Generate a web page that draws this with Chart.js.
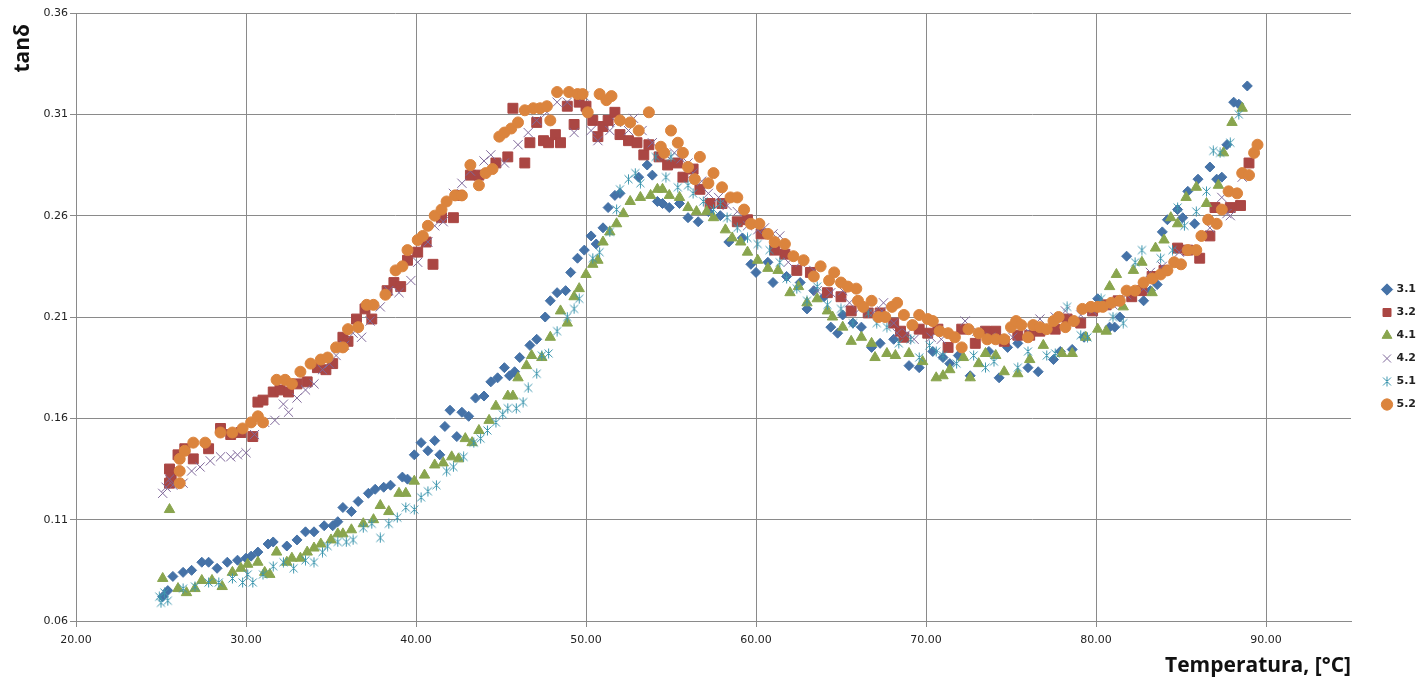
<!DOCTYPE html>
<html>
<head>
<meta charset="utf-8">
<script src="https://cdn.jsdelivr.net/npm/chart.js@4.4.1/dist/chart.umd.min.js"></script>
<style>
  html, body { margin: 0; padding: 0; background: #fff; }
  #wrap { width: 1416px; height: 681px; position: relative; }
</style>
</head>
<body>
<div id="wrap"><canvas id="chart"></canvas></div>
<script>
/* tanδ vs temperature, six samples (scatter, Excel-style) */

const SERIES_NAMES = ['3.1', '3.2', '4.1', '4.2', '5.1', '5.2'];
const X_TICKS = [20, 30, 40, 50, 60, 70, 80, 90];
const Y_TICKS = [0.06, 0.11, 0.16, 0.21, 0.26, 0.31, 0.36];

// 3.1
const T31 = [25.1,25.4,25.7,26.3,26.8,27.4,27.8,28.3,28.9,29.5,30.0,30.3,30.7,31.3,31.6,32.4,33.0,33.5,34.0,34.6,35.1,35.4,35.7,36.2,36.6,37.2,37.6,38.1,38.5,39.2,39.5,39.9,40.3,40.7,41.1,41.4,41.7,42.0,42.4,42.7,43.1,43.5,44.0,44.4,44.8,45.2,45.5,45.8,46.1,46.7,47.1,47.6,47.9,48.3,48.8,49.1,49.5,49.9,50.3,50.6,51.0,51.3,51.7,52.0,53.1,53.6,53.9,54.2,54.5,54.9,55.5,56.0,56.6,57.2,57.9,58.4,59.2,59.7,60.0,60.7,61.0,61.8,62.6,63.0,63.4,64.0,64.4,64.8,65.1,65.7,66.2,66.8,67.3,68.1,69.0,69.6,70.4,71.0,71.4,71.9,72.6,73.7,74.3,74.8,75.4,76.0,76.6,77.5,77.9,78.6,79.3,80.1,80.8,81.1,81.4,81.8,82.8,83.2,83.6,83.9,84.2,84.8,85.1,85.4,85.8,86.0,86.7,87.1,87.4,87.7,88.1,88.4,88.9];
const V31 = [0.072,0.075,0.082,0.084,0.085,0.089,0.089,0.086,0.089,0.090,0.091,0.092,0.094,0.098,0.099,0.097,0.100,0.104,0.104,0.107,0.107,0.109,0.116,0.114,0.119,0.123,0.125,0.126,0.127,0.131,0.130,0.142,0.148,0.144,0.149,0.142,0.156,0.164,0.151,0.163,0.161,0.170,0.171,0.178,0.180,0.185,0.181,0.183,0.190,0.196,0.199,0.210,0.218,0.222,0.223,0.232,0.239,0.243,0.250,0.246,0.254,0.264,0.270,0.271,0.279,0.285,0.280,0.267,0.266,0.264,0.266,0.259,0.257,0.262,0.260,0.247,0.249,0.236,0.232,0.237,0.227,0.230,0.227,0.214,0.223,0.220,0.205,0.202,0.211,0.207,0.205,0.195,0.197,0.199,0.186,0.185,0.193,0.190,0.187,0.191,0.181,0.193,0.180,0.195,0.197,0.185,0.183,0.189,0.193,0.194,0.200,0.219,0.205,0.205,0.210,0.240,0.218,0.223,0.226,0.252,0.258,0.263,0.259,0.272,0.256,0.278,0.284,0.278,0.279,0.295,0.316,0.315,0.324];

// 3.2
const T32 = [25.5,25.5,25.6,26.0,26.4,26.9,27.8,28.5,29.1,29.7,30.4,30.7,31.0,31.6,32.0,32.5,33.0,33.6,34.2,34.7,35.1,35.7,36.0,36.5,37.0,37.4,38.3,38.7,39.1,39.5,40.1,40.6,41.0,41.5,42.2,42.5,43.2,43.7,44.7,45.4,45.7,46.4,46.7,47.1,47.5,47.8,48.2,48.5,48.9,49.3,49.6,50.0,50.4,50.7,51.0,51.3,51.7,52.0,52.5,53.0,53.4,53.7,54.3,54.8,55.4,55.7,56.3,56.7,57.3,58.0,58.9,59.5,60.3,61.1,61.7,62.4,63.2,64.2,65.0,65.6,66.6,67.3,68.1,68.5,68.7,69.6,70.1,70.7,71.3,72.1,72.9,73.5,74.1,74.6,75.4,76.1,76.7,77.6,78.3,79.1,79.8,80.6,81.3,82.1,82.7,83.3,84.0,84.8,85.4,86.1,86.7,87.0,87.9,88.5,89.0];
const V32 = [0.128,0.135,0.131,0.142,0.145,0.140,0.145,0.155,0.152,0.153,0.151,0.168,0.169,0.173,0.174,0.173,0.177,0.178,0.185,0.184,0.187,0.200,0.198,0.209,0.214,0.209,0.223,0.227,0.225,0.238,0.242,0.247,0.236,0.259,0.259,0.270,0.280,0.280,0.286,0.289,0.313,0.286,0.296,0.306,0.297,0.296,0.300,0.296,0.314,0.305,0.316,0.314,0.307,0.299,0.304,0.307,0.311,0.300,0.297,0.296,0.290,0.295,0.289,0.285,0.286,0.279,0.283,0.273,0.266,0.266,0.257,0.258,0.251,0.243,0.241,0.233,0.232,0.222,0.220,0.213,0.212,0.212,0.207,0.203,0.200,0.204,0.202,0.204,0.195,0.204,0.197,0.203,0.203,0.198,0.201,0.201,0.203,0.204,0.209,0.207,0.213,0.216,0.218,0.220,0.223,0.230,0.233,0.244,0.243,0.239,0.250,0.264,0.264,0.265,0.286];

// 4.1
const T41 = [25.1,25.5,26.0,26.5,27.0,27.4,28.0,28.6,29.2,29.7,30.1,30.7,31.1,31.4,31.8,32.4,32.7,33.2,33.6,34.0,34.4,35.0,35.4,35.7,36.2,36.9,37.5,37.9,38.4,39.0,39.4,39.9,40.5,41.1,41.6,42.1,42.5,42.9,43.3,43.7,44.3,44.7,45.4,45.7,46.0,46.5,46.8,47.4,47.9,48.5,48.9,49.3,49.6,50.0,50.4,50.7,51.0,51.4,51.8,52.2,52.6,53.2,53.8,54.2,54.5,54.9,55.5,56.0,56.5,57.1,57.5,58.2,58.6,59.1,59.5,60.1,60.7,61.3,62.0,62.5,63.0,63.6,64.2,64.5,65.1,65.6,66.2,66.8,67.0,67.7,68.2,69.0,69.8,70.6,71.0,71.4,72.2,72.6,73.1,73.5,74.1,74.6,75.4,76.1,76.9,78.0,78.6,79.4,80.1,80.6,80.8,81.2,81.6,82.2,82.7,83.3,83.5,84.0,84.4,84.8,85.3,85.9,86.5,87.2,87.5,88.0,88.6];
const V41 = [0.081,0.115,0.076,0.074,0.076,0.080,0.080,0.077,0.084,0.086,0.088,0.089,0.084,0.083,0.094,0.089,0.091,0.091,0.094,0.096,0.098,0.100,0.103,0.103,0.105,0.108,0.110,0.117,0.114,0.123,0.123,0.129,0.132,0.137,0.138,0.141,0.140,0.150,0.148,0.154,0.159,0.166,0.171,0.171,0.180,0.186,0.191,0.190,0.200,0.213,0.207,0.220,0.224,0.231,0.236,0.238,0.247,0.252,0.256,0.261,0.267,0.269,0.270,0.273,0.273,0.270,0.269,0.264,0.262,0.262,0.259,0.253,0.249,0.247,0.242,0.238,0.234,0.233,0.222,0.225,0.217,0.219,0.213,0.210,0.205,0.198,0.200,0.197,0.190,0.192,0.191,0.192,0.188,0.180,0.181,0.184,0.190,0.180,0.187,0.192,0.191,0.183,0.182,0.189,0.196,0.192,0.192,0.200,0.204,0.203,0.225,0.231,0.215,0.233,0.237,0.222,0.244,0.248,0.259,0.256,0.269,0.274,0.266,0.275,0.291,0.306,0.313];

// 4.2
const T42 = [25.1,25.3,25.5,25.7,26.3,26.8,27.3,27.9,28.5,29.1,29.5,30.0,30.5,31.1,31.7,32.2,32.5,33.0,33.5,34.0,34.5,34.9,35.3,35.8,36.3,36.8,37.3,37.9,38.4,39.0,39.7,40.1,40.7,41.1,41.6,42.2,42.7,43.2,44.0,44.4,45.2,46.0,46.6,47.1,47.7,48.3,48.9,49.3,49.9,50.3,50.7,51.4,51.8,52.5,52.8,53.3,53.9,54.7,55.2,55.6,56.0,56.3,56.8,57.2,57.8,58.3,58.9,59.5,60.1,60.5,61.0,61.4,61.9,62.6,63.4,63.6,64.4,65.1,65.5,66.1,66.9,67.4,67.5,68.1,68.3,68.9,69.3,70.3,70.9,72.3,73.0,73.8,74.4,75.1,76.0,76.7,77.6,78.2,79.1,79.8,81.0,81.8,82.8,83.2,83.9,84.9,85.8,86.7,87.4,87.7,87.9,88.6];
const V42 = [0.123,0.126,0.130,0.127,0.128,0.134,0.136,0.139,0.141,0.141,0.142,0.143,0.152,0.158,0.159,0.167,0.163,0.170,0.174,0.177,0.184,0.187,0.191,0.196,0.202,0.200,0.208,0.215,0.223,0.222,0.228,0.237,0.247,0.255,0.257,0.271,0.276,0.282,0.287,0.290,0.286,0.295,0.301,0.307,0.311,0.316,0.316,0.301,0.319,0.302,0.297,0.302,0.306,0.302,0.308,0.302,0.296,0.290,0.291,0.288,0.286,0.281,0.277,0.271,0.269,0.265,0.262,0.255,0.253,0.254,0.251,0.250,0.237,0.237,0.233,0.223,0.222,0.223,0.217,0.214,0.212,0.213,0.217,0.207,0.202,0.202,0.199,0.200,0.199,0.208,0.203,0.200,0.199,0.200,0.203,0.209,0.210,0.213,0.211,0.213,0.216,0.221,0.224,0.232,0.235,0.242,0.243,0.254,0.269,0.261,0.260,0.279];

// 5.1
const T51 = [24.9,25.0,25.2,25.4,26.3,27.0,27.8,28.4,29.2,29.8,30.1,30.4,31.0,31.6,32.2,32.8,33.5,34.0,34.5,34.8,35.4,35.9,36.3,36.9,37.4,37.9,38.4,38.9,39.4,39.9,40.3,40.7,41.2,41.8,42.2,42.8,43.4,43.8,44.2,44.7,45.1,45.4,45.9,46.3,46.6,47.1,47.4,47.8,48.3,48.9,49.3,49.6,50.4,50.8,51.4,51.8,52.0,52.5,52.9,53.2,54.1,54.7,55.0,55.4,56.0,56.3,56.9,57.5,57.9,58.3,58.9,59.5,60.1,60.8,61.4,61.8,62.4,63.0,63.6,64.2,65.0,65.7,66.6,67.1,67.7,68.4,69.1,69.6,70.2,70.6,71.0,71.8,72.8,73.5,74.0,75.4,76.0,77.1,77.6,78.3,79.1,79.5,80.3,81.0,81.6,82.3,82.7,83.8,84.5,84.8,85.2,85.9,86.5,86.9,87.3,87.9,88.4];
const V51 = [0.072,0.069,0.074,0.070,0.076,0.077,0.079,0.079,0.081,0.079,0.083,0.079,0.083,0.087,0.089,0.086,0.090,0.089,0.094,0.097,0.099,0.099,0.100,0.106,0.108,0.101,0.108,0.111,0.116,0.115,0.121,0.124,0.127,0.134,0.136,0.141,0.148,0.150,0.154,0.158,0.162,0.165,0.165,0.168,0.175,0.182,0.191,0.192,0.203,0.210,0.214,0.219,0.239,0.242,0.252,0.263,0.273,0.278,0.281,0.276,0.289,0.279,0.289,0.274,0.275,0.271,0.267,0.263,0.266,0.259,0.254,0.249,0.246,0.243,0.237,0.229,0.224,0.218,0.225,0.216,0.214,0.207,0.212,0.207,0.205,0.197,0.199,0.190,0.196,0.193,0.191,0.187,0.191,0.185,0.188,0.185,0.193,0.191,0.192,0.215,0.201,0.200,0.219,0.210,0.207,0.237,0.243,0.239,0.243,0.264,0.255,0.262,0.272,0.292,0.291,0.296,0.310];

// 5.2
const T52 = [26.1,26.1,26.1,26.4,26.9,27.6,28.5,29.2,29.8,30.3,30.7,31.0,31.8,32.3,32.7,33.2,33.8,34.4,34.8,35.3,35.7,36.0,36.6,37.1,37.5,38.2,38.8,39.2,39.5,40.1,40.4,40.7,41.1,41.5,41.8,42.3,42.7,43.2,43.7,44.1,44.5,44.9,45.2,45.6,46.0,46.4,46.9,47.3,47.7,47.9,48.3,49.0,49.5,49.8,50.1,50.8,51.2,51.5,52.0,52.6,53.1,53.7,54.4,54.6,55.0,55.4,55.7,56.0,56.4,56.7,57.2,57.5,58.0,58.5,58.9,59.3,59.7,60.2,60.7,61.1,61.7,62.2,62.8,63.4,63.8,64.3,64.6,65.0,65.4,65.9,66.0,66.3,66.8,67.2,67.6,68.0,68.3,68.7,69.2,69.6,70.1,70.4,70.8,71.3,71.7,72.1,72.5,73.1,73.6,74.1,74.6,75.0,75.3,75.6,76.0,76.3,76.7,77.1,77.5,77.8,78.2,78.7,79.2,79.7,80.1,80.4,80.9,81.4,81.8,82.3,82.8,83.3,83.8,84.2,84.6,85.0,85.4,85.9,86.2,86.6,87.1,87.4,87.8,88.3,88.6,89.0,89.3,89.5];
const V52 = [0.128,0.134,0.140,0.144,0.148,0.148,0.153,0.153,0.155,0.158,0.161,0.158,0.179,0.179,0.177,0.183,0.187,0.189,0.190,0.195,0.195,0.204,0.205,0.216,0.216,0.221,0.233,0.235,0.243,0.248,0.250,0.255,0.260,0.263,0.267,0.270,0.270,0.285,0.275,0.281,0.283,0.299,0.301,0.303,0.306,0.312,0.313,0.313,0.314,0.307,0.321,0.321,0.320,0.320,0.311,0.320,0.317,0.319,0.307,0.306,0.302,0.311,0.294,0.291,0.302,0.296,0.291,0.284,0.278,0.289,0.276,0.281,0.274,0.269,0.269,0.263,0.256,0.256,0.251,0.247,0.246,0.240,0.238,0.230,0.235,0.228,0.232,0.227,0.225,0.224,0.218,0.215,0.218,0.210,0.210,0.215,0.217,0.211,0.206,0.211,0.209,0.208,0.203,0.202,0.200,0.195,0.204,0.202,0.199,0.199,0.199,0.205,0.208,0.206,0.200,0.206,0.205,0.204,0.208,0.210,0.205,0.208,0.214,0.215,0.215,0.215,0.217,0.218,0.223,0.223,0.227,0.229,0.231,0.233,0.237,0.236,0.243,0.243,0.250,0.258,0.256,0.263,0.272,0.271,0.281,0.280,0.291,0.295];

const COLORS = ['#4572A7', '#AA4643', '#89A54E', '#80699B', '#3D96AE', '#DB843D'];
const RADII = [5, 7, 6, 6.5, 5.5, 5.5];

// Excel's "5.1" marker: an asterisk (vertical stroke plus an X), no horizontal bar
function asteriskMarker(color) {
  const c = document.createElement('canvas');
  c.width = 11; c.height = 11;
  const g = c.getContext('2d');
  g.strokeStyle = color;
  g.lineWidth = 1;
  g.beginPath();
  g.moveTo(5.5, 0.5); g.lineTo(5.5, 10.5);
  g.moveTo(1.5, 1.5); g.lineTo(9.5, 9.5);
  g.moveTo(9.5, 1.5); g.lineTo(1.5, 9.5);
  g.stroke();
  return c;
}

const STYLES = ['rectRot', 'rect', 'triangle', 'crossRot', asteriskMarker(COLORS[4]), 'circle'];

function toPoints(ts, vs) { return ts.map((t, i) => ({ x: t, y: vs[i] })); }

const SERIES = [[T31, V31], [T32, V32], [T41, V41], [T42, V42], [T51, V51], [T52, V52]];

const datasets = SERIES.map(([ts, vs], i) => ({
  label: SERIES_NAMES[i],
  data: toPoints(ts, vs),
  pointStyle: STYLES[i],
  pointRadius: RADII[i],
  pointHoverRadius: RADII[i],
  backgroundColor: COLORS[i],
  borderColor: COLORS[i],
  pointBorderWidth: 1,
  showLine: false,
  order: SERIES_NAMES.length - i, // later series painted on top, like Excel
}));

const TICK_FONT = { family: 'DejaVu Sans', size: 11 };
const TITLE_FONT = { family: 'Open Sans', size: 21, weight: 'bold' };
const GRID = '#8a8a8a';

new Chart(document.getElementById('chart'), {
  type: 'scatter',
  data: { datasets },
  options: {
    responsive: true, maintainAspectRatio: false, animation: false,
    layout: { padding: { top: 13, right: 0, bottom: 0, left: 0 } },
    plugins: {
      tooltip: { enabled: false },
      legend: {
        position: 'right',
        maxWidth: 45,
        labels: {
          usePointStyle: true, boxWidth: 8, boxHeight: 8, padding: 12,
          color: '#222', font: { family: 'DejaVu Sans', size: 11, weight: 'bold' },
          sort: (a, b) => a.datasetIndex - b.datasetIndex,
        },
      },
    },
    scales: {
      x: {
        type: 'linear', min: 20, max: 95,
        afterBuildTicks: (s) => { s.ticks = X_TICKS.map(v => ({ value: v })); },
        afterFit: (s) => { s.height = 60; },
        grid: { color: GRID, tickLength: 6, tickColor: GRID },
        border: { color: GRID },
        ticks: { color: '#222', font: TICK_FONT, padding: 7, maxRotation: 0, callback: (v) => Number(v).toFixed(2) },
        title: { display: true, text: 'Temperatura, [°C]', align: 'end', color: '#111', font: TITLE_FONT, padding: { top: 0, bottom: 2 } },
      },
      y: {
        type: 'linear', min: 0.06, max: 0.36,
        afterBuildTicks: (s) => { s.ticks = Y_TICKS.map(v => ({ value: v })); },
        afterFit: (s) => { s.width = 76; },
        grid: { color: GRID, tickLength: 6, tickColor: GRID },
        border: { color: GRID },
        ticks: { color: '#222', font: TICK_FONT, padding: 2, callback: (v) => Number(v).toFixed(2) },
        title: { display: true, text: 'tanδ  ', align: 'end', color: '#111', font: TITLE_FONT, padding: { top: 10, bottom: 0 } },
      },
      gap: {
        type: 'linear', position: 'right', display: true,
        afterFit: (s) => { s.width = 20; },
        grid: { display: false }, border: { display: false }, ticks: { display: false },
      },
    },
  },
});
</script>
</body>
</html>
